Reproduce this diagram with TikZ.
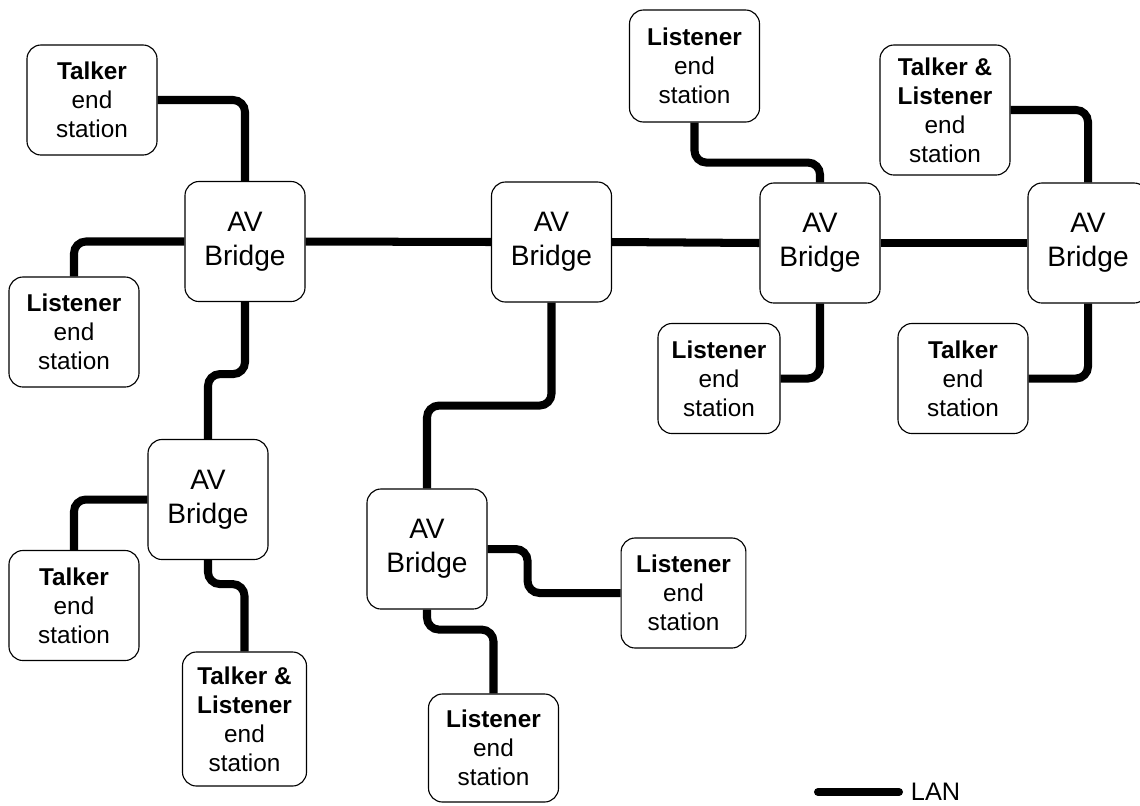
\documentclass[tikz,border=0pt]{standalone}
\usepackage{fontspec}
\setmainfont{Liberation Sans}
\usetikzlibrary{calc}

\tikzset{
  bridge/.style={draw, line width=0.8pt, rounded corners=10pt, fill=white,
    minimum width=3cm, minimum height=3cm, align=center,
    font=\fontsize{20}{24.5}\selectfont},
  station/.style={draw, line width=0.8pt, rounded corners=10pt, fill=white,
    minimum width=3.25cm, minimum height=2.75cm, align=center,
    font=\fontsize{17.3}{20.6}\selectfont},
  lan/.style={line width=5.7pt, rounded corners=8.5pt},
}

\begin{document}
\begin{tikzpicture}[x=0.025cm, y=-0.025cm]
\useasboundingbox (0,0) rectangle (1140,805);

% bridges
\node [bridge] (br1) at (245,241.5) {AV\\Bridge};
\node [bridge] (br2) at (208,499.5) {AV\\Bridge};
\node [bridge] (br3) at (551.5,242) {AV\\Bridge};
\node [bridge] (br4) at (427,549) {AV\\Bridge};
\node [bridge] (br5) at (820,243) {AV\\Bridge};
\node [bridge] (br6) at (1088,243) {AV\\Bridge};

% end stations
\node [station] (tk1) at (92,100) {\textbf{Talker}\\end\\station};
\node [station] (ls1) at (74,332) {\textbf{Listener}\\end\\station};
\node [station] (tk2) at (74,605.5) {\textbf{Talker}\\end\\station};
\node [station, minimum width=3.1cm, minimum height=3.35cm] (tl2) at (244.5,719) {\textbf{Talker \&}\\\textbf{Listener}\\end\\station};
\node [station, minimum width=3.12cm] (ls4) at (683.5,593) {\textbf{Listener}\\end\\station};
\node [station, minimum height=2.7cm] (ls5) at (493.5,748) {\textbf{Listener}\\end\\station};
\node [station, minimum height=2.8cm] (ls3) at (694.5,66) {\textbf{Listener}\\end\\station};
\node [station, minimum width=3.05cm] (ls6) at (719,378.5) {\textbf{Listener}\\end\\station};
\node [station, minimum height=3.25cm] (tl6) at (945,110) {\textbf{Talker \&}\\\textbf{Listener}\\end\\station};
\node [station] (tk6) at (963,378.5) {\textbf{Talker}\\end\\station};

% LAN links
\draw [lan] (tk1.east) -| (br1.north);
\draw [lan] (br1.west) -| (ls1.north);
\draw [lan] (br1.south) -- ++(0,72) -| (br2.north);
\draw [lan] (br2.west) -| (tk2.north);
\draw [lan] (br2.south) -- ++(0,24) -| (tl2.north);
\draw [lan] (br1.east) -- (br3.west);
\draw [lan] (br3.south) -- ++(0,103) -| (br4.north);
\draw [lan] (br4.east) -- ++(40,0) |- (ls4.west);
\draw [lan] (br4.south) -- ++(0,20) -| (ls5.north);
\draw [lan] (br3.east) -- (br5.west);
\draw [lan] (ls3.south) -- ++(0,40) -| (br5.north);
\draw [lan] (br5.south) |- (ls6.east);
\draw [lan] (br5.east) -- (br6.west);
\draw [lan] (tl6.east) -| (br6.north);
\draw [lan] (br6.south) |- (tk6.east);

% legend
\coordinate (lanA) at (818,792);
\coordinate (lanB) at (899,792);
\draw [lan, line cap=round] (lanA) -- (lanB);
\node [anchor=west, font=\fontsize{18}{21}\selectfont] (lanlbl) at (906,792) {LAN};
\end{tikzpicture}
\end{document}
